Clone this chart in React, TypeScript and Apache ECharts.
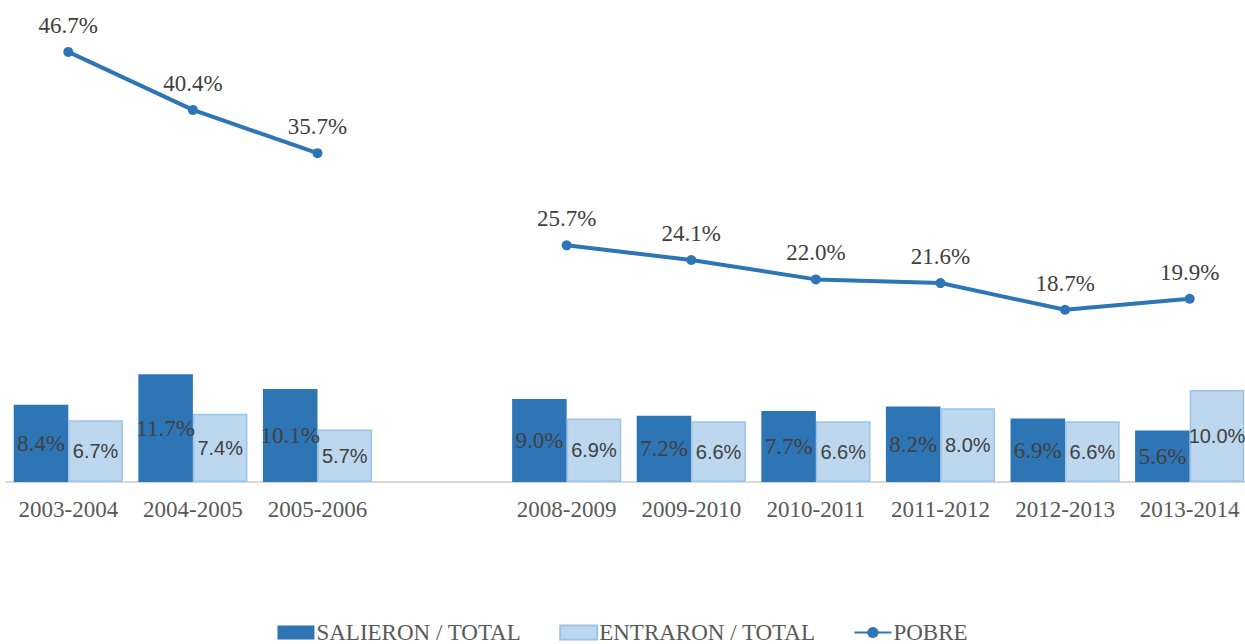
import React, { useEffect, useRef } from "react";
import * as echarts from "echarts";

const categories = ["2003-2004", "2004-2005", "2005-2006", "", "2008-2009", "2009-2010", "2010-2011", "2011-2012", "2012-2013", "2013-2014"];
const salieron = [8.4, 11.7, 10.1, null, 9.0, 7.2, 7.7, 8.2, 6.9, 5.6];
const entraron = [6.7, 7.4, 5.7, null, 6.9, 6.6, 6.6, 8.0, 6.6, 10.0];
const pobre = [46.7, 40.4, 35.7, null, 25.7, 24.1, 22.0, 21.6, 18.7, 19.9];

const SERIF = "'Liberation Serif', 'Times New Roman', serif";
const SANS = "'Liberation Sans', Carlito, 'DejaVu Sans', sans-serif";

export default function App() {
  const ref = useRef<HTMLDivElement>(null);
  useEffect(() => {
    const chart = echarts.init(ref.current!, null, { renderer: "svg" });
    chart.setOption({
      animation: false,
      backgroundColor: "#ffffff",
      grid: { left: 6, width: 1246, top: 21.5, bottom: 162, containLabel: false, outerBoundsMode: "none" },
      legend: {
        top: 616,
        left: "center",
        itemGap: 38,
        itemWidth: 37,
        itemHeight: 14,
        textStyle: { fontFamily: SERIF, fontSize: 23, color: "#595959", padding: [0, 0, 0, -3] },
        data: [
          { name: "SALIERON / TOTAL", icon: "rect" },
          { name: "ENTRARON / TOTAL", icon: "rect" },
          { name: "POBRE" },
        ],
      },
      xAxis: {
        type: "category",
        data: categories,
        axisLine: { show: true, lineStyle: { color: "#d9d9d9", width: 2 } },
        axisTick: { show: false },
        axisLabel: { fontFamily: SERIF, fontSize: 23, color: "#595959", margin: 16, interval: 0 },
      },
      yAxis: {
        type: "value",
        min: 0,
        max: 50,
        show: false,
        splitLine: { show: false },
      },
      series: [
        {
          name: "SALIERON / TOTAL",
          type: "bar",
          data: salieron,
          barWidth: "43.8%",
          barGap: "0%",
          itemStyle: { color: "#2e75b6" },
          label: {
            show: true,
            position: "inside",
            formatter: (p: any) => p.value.toFixed(1) + "%",
            fontFamily: SERIF,
            fontSize: 23,
            color: "#404040",
          },
        },
        {
          name: "ENTRARON / TOTAL",
          type: "bar",
          data: entraron,
          barWidth: "43.8%",
          barGap: "0%",
          itemStyle: { color: "#bdd7ee", borderColor: "#9dc3e6", borderWidth: 1.5 },
          label: {
            show: true,
            position: "inside",
            formatter: (p: any) => p.value.toFixed(1) + "%",
            fontFamily: SANS,
            fontSize: 20,
            color: "#404040",
          },
        },
        {
          name: "POBRE",
          type: "line",
          data: pobre,
          connectNulls: false,
          symbol: "circle",
          symbolSize: 10,
          lineStyle: { color: "#2e75b6", width: 4 },
          itemStyle: { color: "#2e75b6" },
          label: {
            show: true,
            position: "top",
            distance: 10,
            formatter: (p: any) => p.value.toFixed(1) + "%",
            fontFamily: SERIF,
            fontSize: 23,
            color: "#404040",
          },
          z: 5,
        },
      ],
    });
    return () => chart.dispose();
  }, []);
  return (
    <div
      ref={ref}
      style={{ position: "fixed", left: 0, top: 0, width: 1245, height: 644, background: "#fff" }}
    />
  );
}
